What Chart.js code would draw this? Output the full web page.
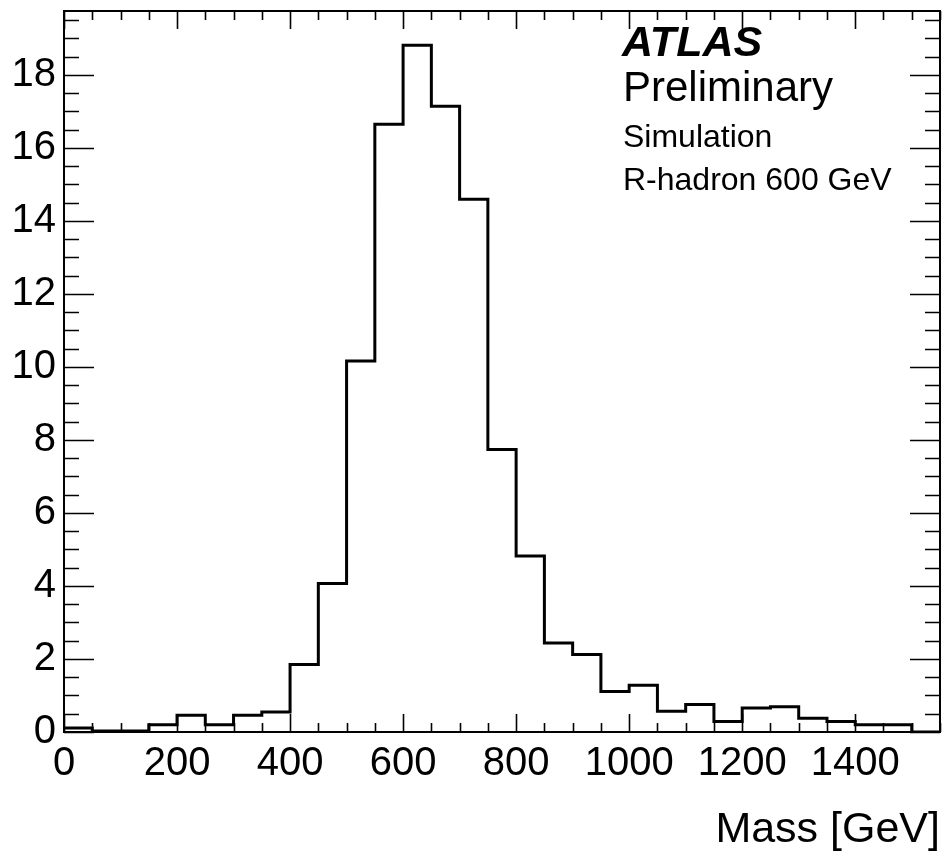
<!DOCTYPE html>
<html>
<head>
<meta charset="utf-8">
<script src="https://cdn.jsdelivr.net/npm/chart.js@4.4.1/dist/chart.umd.min.js"></script>
<style>
  body { margin: 0; background: #fff; }
  #wrap { width: 946px; height: 856px; }
</style>
</head>
<body>
<div id="wrap"><canvas id="massChart"></canvas></div>
<script>
// bin low edges in GeV (50 GeV bins), last entry is the upper edge
const binEdges = [0, 50, 100, 150, 200, 250, 300, 350, 400, 450, 500, 550, 600, 650, 700, 750,
  800, 850, 900, 950, 1000, 1050, 1100, 1150, 1200, 1250, 1300, 1350, 1400, 1450, 1500, 1550];
// entries per bin
const counts = [0.11, 0.03, 0.03, 0.2, 0.46, 0.2, 0.46, 0.55, 1.85, 4.07, 10.16, 16.65, 18.81, 17.14, 14.59, 7.74,
  4.82, 2.44, 2.12, 1.11, 1.28, 0.57, 0.75, 0.29, 0.66, 0.69, 0.38, 0.29, 0.2, 0.2, 0];
const xTickValues = [0, 200, 400, 600, 800, 1000, 1200, 1400];
const yTickValues = [0, 2, 4, 6, 8, 10, 12, 14, 16, 18];

const FONT = '"Liberation Sans", Helvetica, Arial, sans-serif';

// step points: left edge of each bin, plus closing point at the last edge
const histPoints = counts.map((c, i) => ({ x: binEdges[i], y: c }));
histPoints.push({ x: binEdges[binEdges.length - 1], y: counts[counts.length - 1] });

// ROOT style frame with inward ticks on all four sides
const rootFrame = {
  id: 'rootFrame',
  afterDraw(chart) {
    const { ctx, chartArea: a, scales: { x, y } } = chart;
    ctx.save();
    ctx.strokeStyle = '#000';
    ctx.lineWidth = 2;
    ctx.strokeRect(a.left, a.top, a.right - a.left, a.bottom - a.top);
    ctx.beginPath();
    for (let v = 0; v <= y.max + 1e-6; v += 0.5) {
      const py = Math.round(y.getPixelForValue(v)) + 0.5;
      const len = (v % 2 === 0) ? 30 : 15;
      ctx.moveTo(a.left, py); ctx.lineTo(a.left + len, py);
      ctx.moveTo(a.right, py); ctx.lineTo(a.right - len, py);
    }
    for (let v = 0; v <= x.max + 1e-6; v += 50) {
      const px = Math.round(x.getPixelForValue(v)) + 0.5;
      const len = (v % 200 === 0) ? 18 : 9;
      ctx.moveTo(px, a.bottom); ctx.lineTo(px, a.bottom - len);
      ctx.moveTo(px, a.top); ctx.lineTo(px, a.top + len);
    }
    ctx.lineWidth = 1.6;
    ctx.stroke();

    // labels
    ctx.fillStyle = '#000';
    ctx.textAlign = 'left';
    ctx.textBaseline = 'alphabetic';
    ctx.font = 'italic bold 43px ' + FONT;
    ctx.fillText('ATLAS', 622, 56);
    ctx.font = '42px ' + FONT;
    ctx.fillText('Preliminary', 623, 101);
    ctx.font = '32px ' + FONT;
    ctx.fillText('Simulation', 623, 147);
    ctx.fillText('R-hadron 600 GeV', 623, 190);
    ctx.restore();
  }
};

new Chart(document.getElementById('massChart'), {
  type: 'line',
  data: {
    datasets: [{
      label: 'R-hadron 600 GeV',
      data: histPoints,
      stepped: 'before',
      borderColor: '#000',
      borderWidth: 3,
      pointRadius: 0,
      fill: false
    }]
  },
  options: {
    responsive: true,
    maintainAspectRatio: false,
    animation: false,
    layout: { padding: { top: 11, right: 6, left: 0, bottom: 0 } },
    plugins: {
      legend: { display: false },
      tooltip: { enabled: false }
    },
    scales: {
      x: {
        type: 'linear',
        min: 0,
        max: 1550,
        afterBuildTicks: s => { s.ticks = xTickValues.map(v => ({ value: v })); },
        afterFit: s => { s.height = 124; s.paddingLeft = 0; s.paddingRight = 0; },
        grid: { display: false, drawTicks: false },
        border: { display: false },
        ticks: {
          padding: 8,
          color: '#000',
          maxRotation: 0,
          autoSkip: false,
          callback: v => String(v),
          font: { family: FONT, size: 40 }
        },
        title: {
          display: true,
          text: 'Mass [GeV]',
          align: 'end',
          color: '#000',
          padding: { top: 0, bottom: 0 },
          font: { family: FONT, size: 43 }
        }
      },
      y: {
        min: 0,
        max: 19.75,
        afterBuildTicks: s => { s.ticks = yTickValues.map(v => ({ value: v })); },
        afterFit: s => { s.width = 64; s.paddingTop = 0; s.paddingBottom = 0; },
        grid: { display: false, drawTicks: false },
        border: { display: false },
        ticks: {
          padding: 8,
          color: '#000',
          autoSkip: false,
          callback: v => String(v),
          font: { family: FONT, size: 40 }
        }
      }
    }
  },
  plugins: [rootFrame]
});
</script>
</body>
</html>
